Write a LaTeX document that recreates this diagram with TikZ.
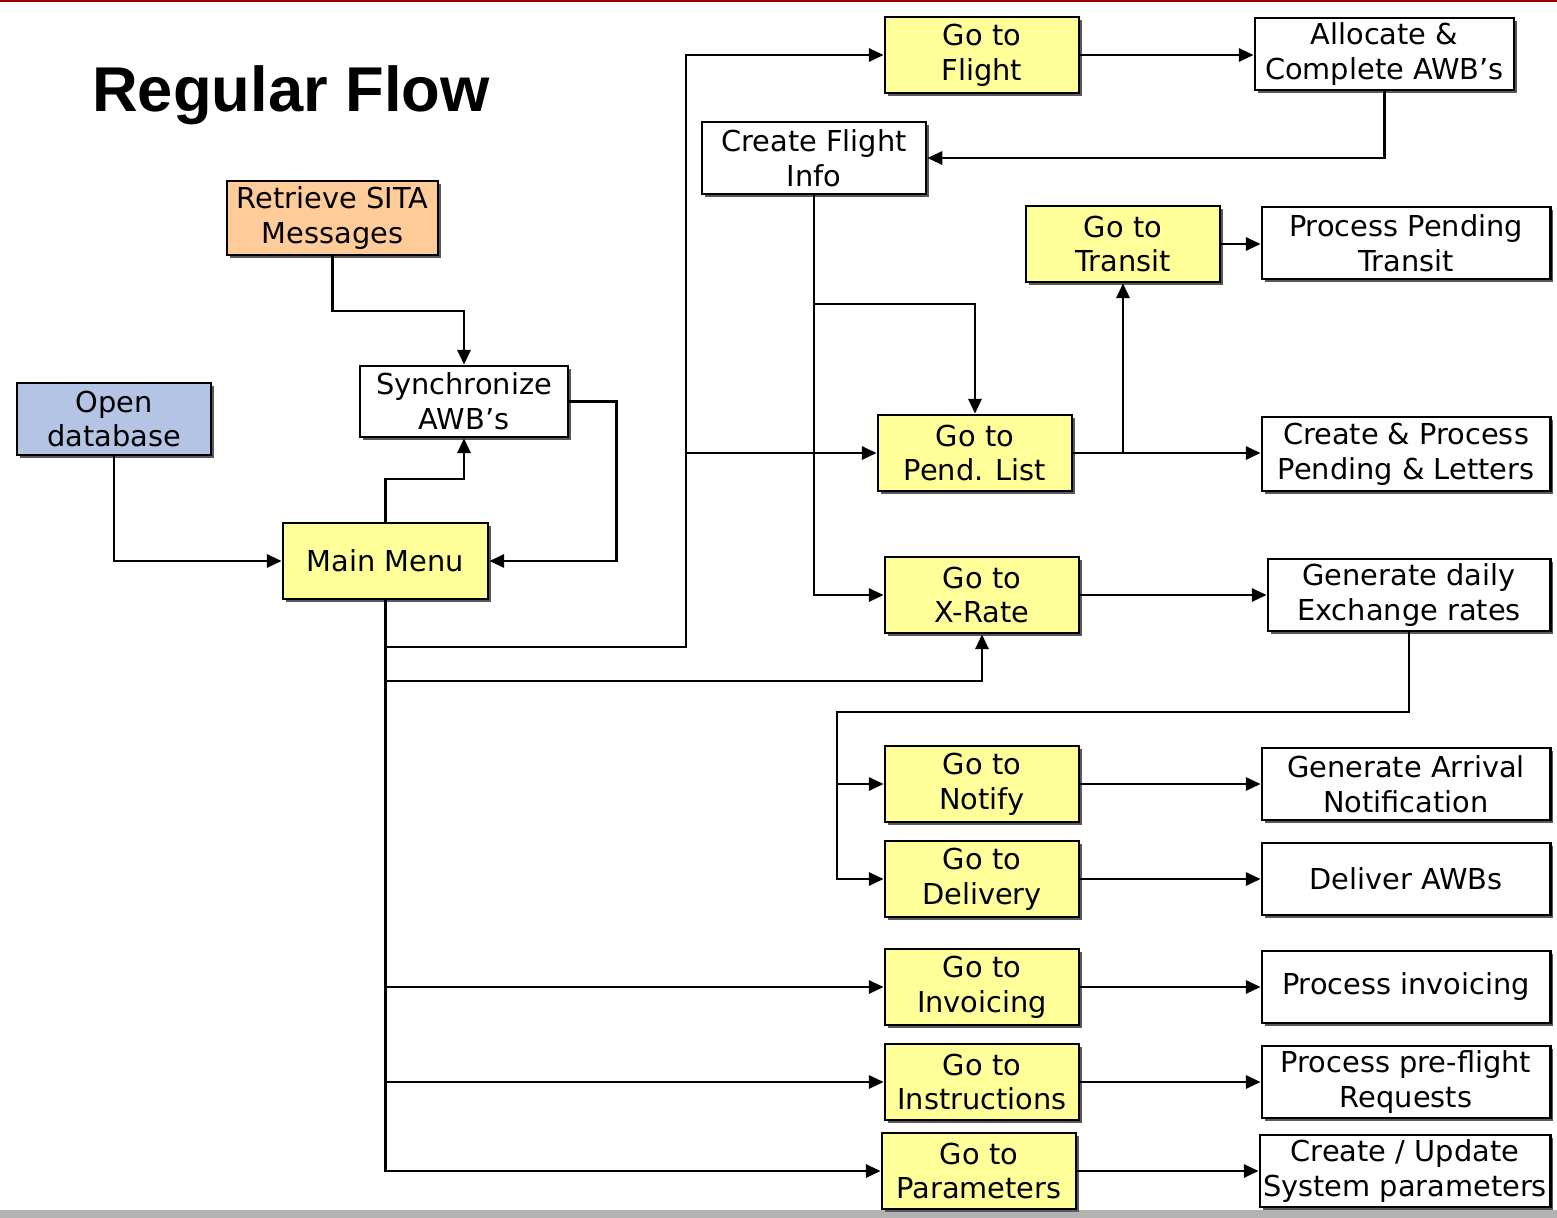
\documentclass[tikz,border=0pt]{standalone}
\usepackage{fontspec}
\setmainfont{DejaVu Sans}
\newfontfamily\titlefont{Liberation Sans}
\usetikzlibrary{arrows.meta,shadows}
\definecolor{dbblue}{RGB}{180,196,228}
\definecolor{goyellow}{RGB}{255,255,153}
\definecolor{sitaorange}{RGB}{255,204,153}

\begin{document}
\begin{tikzpicture}[x=0.01cm, y=-0.01cm]

    % Define styles
    \tikzset{
        box/.style={draw=black, line width=0.8pt, align=center, inner sep=0pt,
            font=\fontsize{8.2}{9.9}\selectfont,
            drop shadow={shadow xshift=0.03cm, shadow yshift=-0.03cm, fill=black!65, opacity=1}},
        go box/.style={box, fill=goyellow, minimum width=1.94cm, minimum height=0.76cm},
        task box/.style={box, fill=white, minimum width=2.88cm, minimum height=0.72cm},
        flow/.style={line width=0.6pt, -{Triangle[length=4.2pt, width=3.8pt]}}
    }

    % Page frame
    \useasboundingbox (0,0) rectangle (1557,1218);
    \fill[red!60!black] (0,0) rectangle (1557,2);
    \fill[black!30] (0,1210) rectangle (1557,1218);

    % Title
    \node[font=\titlefont\bfseries\fontsize{18}{20}\selectfont] (title) at (291,95) {Regular Flow};

    % Left side boxes
    \node[box, fill=dbblue, minimum width=1.94cm, minimum height=0.72cm] (opendb) at (114,419) {Open\\database};
    \node[box, fill=sitaorange, minimum width=2.11cm, minimum height=0.74cm] (sita) at (332.5,218) {Retrieve SITA\\Messages};
    \node[box, fill=white, minimum width=2.08cm, minimum height=0.71cm] (sync) at (464,401.5) {Synchronize\\AWB’s};
    \node[box, fill=goyellow, minimum width=2.05cm, minimum height=0.76cm] (mainmenu) at (385.5,561) {Main Menu};

    % Go to boxes
    \node[go box] (goflight) at (982,55) {Go to\\Flight};
    \node[go box] (gotransit) at (1123,244) {Go to\\Transit};
    \node[go box] (gopend) at (975,453) {Go to\\Pend. List};
    \node[go box] (goxrate) at (982,595) {Go to\\X-Rate};
    \node[go box] (gonotify) at (982,784) {Go to\\Notify};
    \node[go box] (godelivery) at (982,879) {Go to\\Delivery};
    \node[go box] (goinvoice) at (982,987) {Go to\\Invoicing};
    \node[go box] (goinstr) at (982,1082) {Go to\\Instructions};
    \node[go box] (goparams) at (979,1171) {Go to\\Parameters};

    % Task boxes
    \node[task box, minimum width=2.59cm] (allocate) at (1384.5,54) {Allocate \&\\Complete AWB’s};
    \node[task box, minimum width=2.24cm] (createflight) at (814,158) {Create Flight\\Info};
    \node[task box] (pendtransit) at (1406,243) {Process Pending\\Transit};
    \node[task box, minimum height=0.74cm] (createpend) at (1406,454) {Create \& Process\\Pending \& Letters};
    \node[task box, minimum width=2.82cm] (xrates) at (1409,595) {Generate daily\\Exchange rates};
    \node[task box] (arrival) at (1406,784) {Generate Arrival\\Notification};
    \node[task box] (deliver) at (1406,879) {Deliver AWBs};
    \node[task box] (invoicing) at (1406,987) {Process invoicing};
    \node[task box] (preflight) at (1406,1082) {Process pre-flight\\Requests};
    \node[task box, minimum width=2.90cm] (sysparams) at (1405,1171) {Create / Update\\System parameters};

    % Bend points
    \coordinate (busA) at (686,647);
    \coordinate (xbend) at (982,681);
    \coordinate (cfbend) at (814,304);
    \coordinate (nbend) at (837,712);

    % Start up
    \draw[flow] (opendb.south) |- (mainmenu.west);
    \draw[flow] (sita.south) -- ++(0,55) -| (sync.north);
    \draw[flow] (mainmenu.north) -- ++(0,-43) -| (sync.south);
    \draw[flow] (sync.east) -- ++(47,0) |- (mainmenu.east);

    % Main menu trunk
    \draw[flow] (mainmenu.south) |- (goparams.west);
    \draw[flow] (mainmenu.south |- busA) -- (busA) |- (goflight.west);
    \draw[flow] (busA |- gopend.west) -- (gopend.west);
    \draw[flow] (mainmenu.south |- xbend) -| (goxrate.south);
    \draw[flow] (mainmenu.south |- goinvoice.west) -- (goinvoice.west);
    \draw[flow] (mainmenu.south |- goinstr.west) -- (goinstr.west);

    % Flight loop
    \draw[flow] (goflight.east) -- (goflight.east -| allocate.west);
    \draw[flow] (allocate.south) |- (createflight.east);
    \draw[flow] (createflight.south) |- (goxrate.west);
    \draw[flow] (cfbend) -| (gopend.north);

    % Pending and transit
    \draw[flow] (gopend.east) -- (gopend.east -| createpend.west);
    \draw[flow] (gopend.east -| gotransit.south) -- (gotransit.south);
    \draw[flow] (gotransit.east) -- (gotransit.east -| pendtransit.west);

    % Rates, notify and delivery
    \draw[flow] (goxrate.east) -- (goxrate.east -| xrates.west);
    \draw[flow] (xrates.south) |- (nbend) |- (godelivery.west);
    \draw[flow] (nbend |- gonotify.west) -- (gonotify.west);
    \draw[flow] (gonotify.east) -- (arrival.west);
    \draw[flow] (godelivery.east) -- (deliver.west);

    % Remaining tasks
    \draw[flow] (goinvoice.east) -- (invoicing.west);
    \draw[flow] (goinstr.east) -- (preflight.west);
    \draw[flow] (goparams.east) -- (sysparams.west);

\end{tikzpicture}
\end{document}
